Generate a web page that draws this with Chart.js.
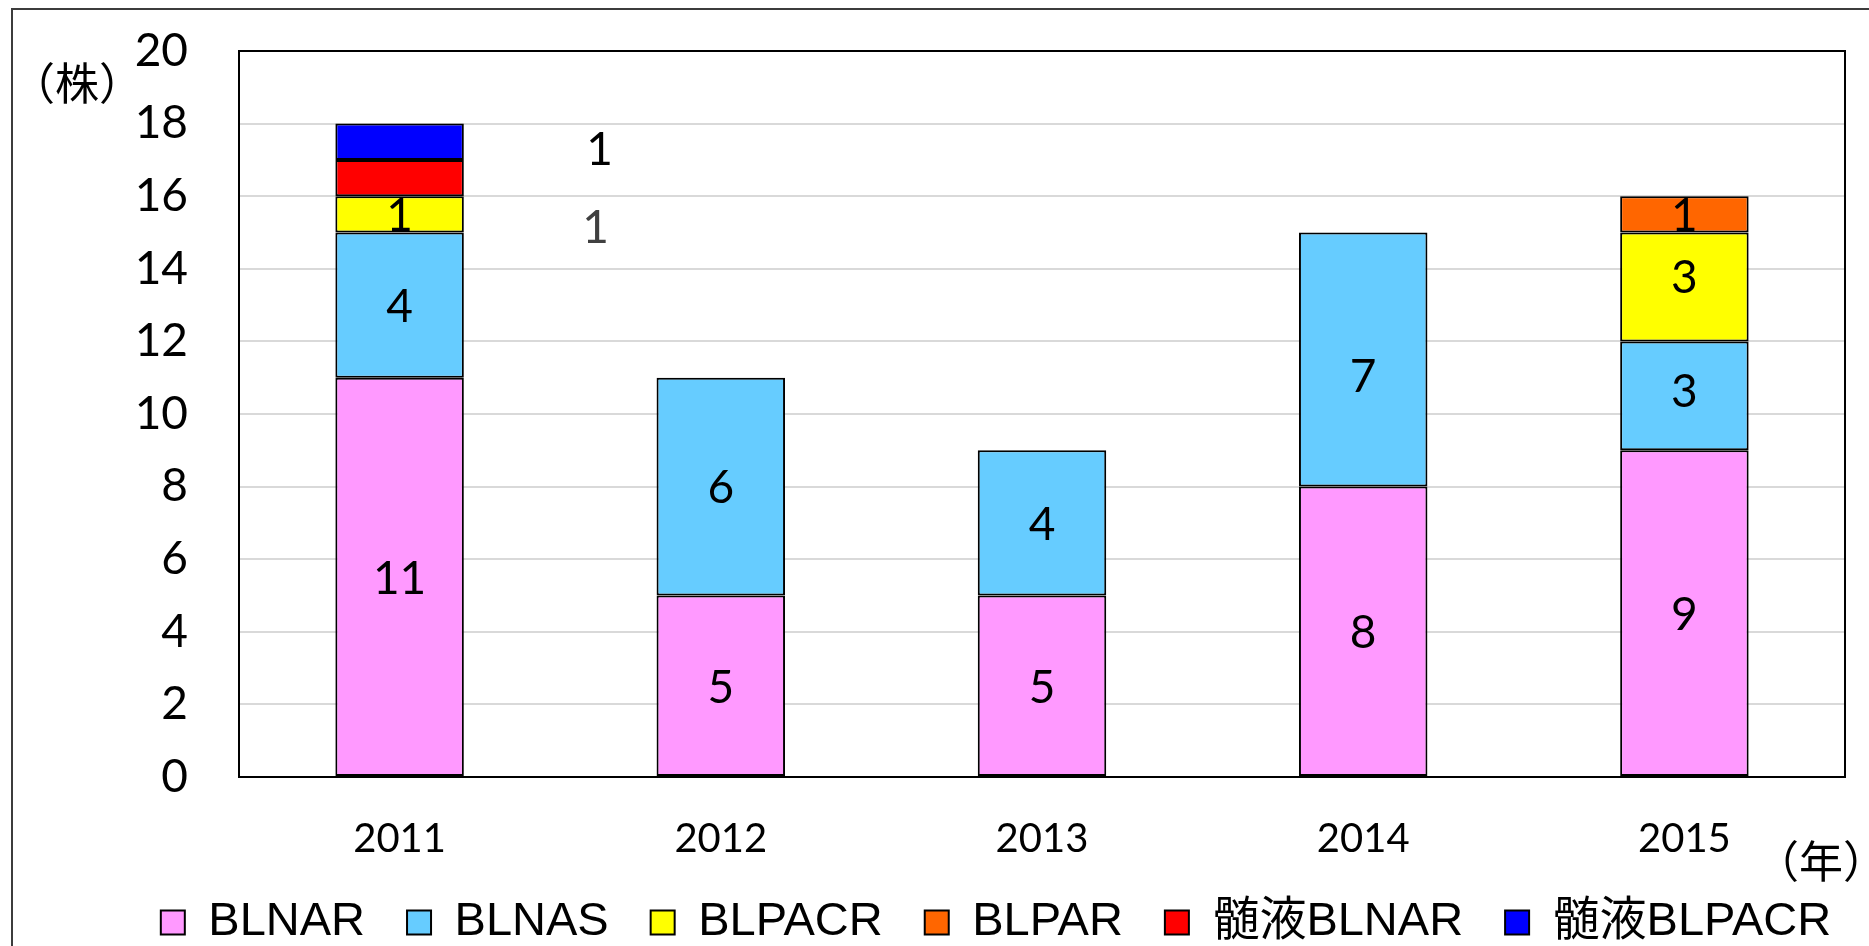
<!DOCTYPE html>
<html>
<head>
<meta charset="utf-8">
<script src="https://cdn.jsdelivr.net/npm/chart.js@4.4.1/dist/chart.umd.min.js"></script>
<style>
  html, body { margin: 0; padding: 0; background: #fff; overflow: hidden; width: 1869px; height: 946px; }
  #frame { position: absolute; left: 11px; top: 8px; width: 1966px; height: 960px; border: 2px solid #3c3c3c; background: #fff; }
  canvas { display: block; }
</style>
</head>
<body>
<div id="frame"><canvas id="c" width="1966" height="960"></canvas></div>
<script>
// Isolates per year (株)
const years = ['2011', '2012', '2013', '2014', '2015'];
const blnar = [11, 5, 5, 8, 9];
const blnas = [4, 6, 4, 7, 3];
const blpacr = [1, null, null, null, 3];
const blpar = [null, null, null, null, 1];
const csfBlnar = [1, null, null, null, null];
const csfBlpacr = [1, null, null, null, null];
const yMax = 20;
const yStep = 2;

const NUM_FONT = 'Lato, "Noto Sans", sans-serif';
const LEGEND_FONT = '"Liberation Sans", "Noto Sans CJK JP", sans-serif';
const CJK_FONT = '"Noto Sans CJK JP", sans-serif';

function series(label, data, color, labelStyle) {
  return {
    label, data,
    backgroundColor: color,
    borderColor: '#000',
    borderWidth: 2,
    borderSkipped: false,
    labelStyle: labelStyle || {}
  };
}

// Value written on each stacked segment (some nudged, some moved beside the bar)
const valueLabels = {
  id: 'valueLabels',
  afterDatasetsDraw(chart) {
    const ctx = chart.ctx;
    ctx.save();
    ctx.font = '46px ' + NUM_FONT;
    ctx.textAlign = 'center';
    ctx.textBaseline = 'middle';
    chart.data.datasets.forEach((ds, i) => {
      const meta = chart.getDatasetMeta(i);
      const st = ds.labelStyle || {};
      meta.data.forEach((bar, j) => {
        const v = ds.data[j];
        if (v == null) return;
        const p = bar.getProps(['x', 'y', 'base'], true);
        const nudge = (st.nudge && st.nudge[j]) || 0;
        ctx.fillStyle = st.color || '#000';
        ctx.fillText(String(v), p.x + (st.dx || 0), (p.y + p.base) / 2 + 2 + (st.dy || 0) + nudge);
      });
    });
    ctx.restore();
  }
};

// Unit captions for both axes
const unitCaptions = {
  id: 'unitCaptions',
  afterDraw(chart) {
    const { ctx, chartArea } = chart;
    ctx.save();
    ctx.font = '44px ' + CJK_FONT;
    ctx.fillStyle = '#000';
    ctx.textAlign = 'center';
    ctx.textBaseline = 'middle';
    ctx.fillText('（株）', chartArea.left - 162, chartArea.top + 32);
    ctx.fillText('（年）', chartArea.right - 24, chartArea.bottom + 84);
    ctx.restore();
  }
};

new Chart(document.getElementById('c'), {
  type: 'bar',
  data: {
    labels: years,
    datasets: [
      series('BLNAR', blnar, '#FF99FF'),
      series('BLNAS', blnas, '#66CCFF', { nudge: [0, 0, 0, 16, -6] }),
      series('BLPACR', blpacr, '#FFFF00', { nudge: [0, 0, 0, 0, -11] }),
      series('BLPAR', blpar, '#FF6600'),
      series('髄液BLNAR', csfBlnar, '#FF0000', { dx: 196, dy: 48, color: '#404040' }),
      series('髄液BLPACR', csfBlpacr, '#0000FF', { dx: 200, dy: 6 })
    ]
  },
  options: {
    responsive: false,
    animation: false,
    devicePixelRatio: 1,
    layout: { padding: { left: 0, right: 0, top: 41, bottom: 14 } },
    datasets: { bar: { categoryPercentage: 1, barPercentage: 0.4 } },
    scales: {
      x: {
        stacked: true,
        grid: { display: false, drawTicks: false },
        border: { display: true, color: '#000', width: 2 },
        ticks: { color: '#000', font: { family: NUM_FONT, size: 40 }, padding: 38, maxRotation: 0 },
        afterFit(s) { s.height = 80; }
      },
      y: {
        stacked: true,
        min: 0, max: yMax,
        grid: {
          color: c => (c.tick && c.tick.value === yMax ? '#000' : '#D9D9D9'),
          lineWidth: 2,
          drawTicks: false
        },
        border: { display: true, color: '#000', width: 2 },
        ticks: { stepSize: yStep, color: '#000', font: { family: NUM_FONT, size: 46 }, padding: 51 },
        afterFit(s) { s.width = 226; s.paddingTop = 0; s.paddingBottom = 0; }
      },
      edge: {
        type: 'linear',
        position: 'right',
        grid: { display: false, drawTicks: false },
        border: { display: true, color: '#000', width: 2 },
        ticks: { display: false },
        afterFit(s) { s.width = 134; }
      }
    },
    plugins: {
      legend: {
        position: 'bottom',
        labels: {
          boxWidth: 24, boxHeight: 24, padding: 42,
          color: '#000',
          font: { family: LEGEND_FONT, size: 47 }
        }
      },
      tooltip: { enabled: false },
      title: { display: false }
    }
  },
  plugins: [valueLabels, unitCaptions]
});
</script>
</body>
</html>
